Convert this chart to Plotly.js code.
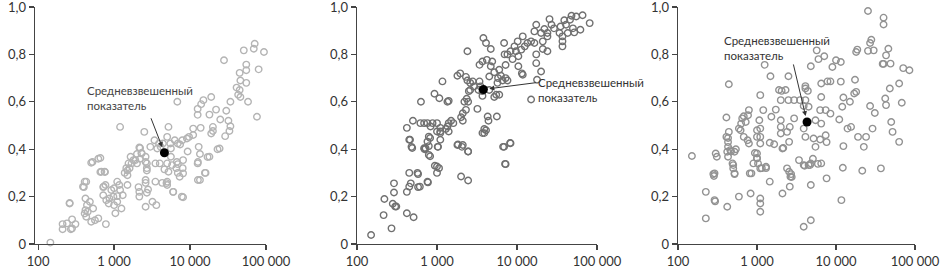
<!DOCTYPE html>
<html><head><meta charset="utf-8">
<script src="https://cdn.plot.ly/plotly-3.0.1.min.js"></script>
<style>html,body{margin:0;padding:0;background:#fff}#chart{width:948px;height:271px}</style>
</head><body><div id="chart"></div>
<script>
// ---- DATA ----
const xTickVals = [100, 1000, 10000, 100000];
const xTickText = ["100", "1 000", "10 000", "100 000"];
const yTickVals = [0, 0.2, 0.4, 0.6, 0.8, 1.0];
const yTickText = ["0", "0,2", "0,4", "0,6", "0,8", "1,0"];
const meanLabel = "Средневзвешенный<br>показатель";

const x1 = [71000,69000,51000,94000,28000,55000,80000,45000,55000,46000,55000,41000,45000,43000,46000,58000,34000,76000,19000,15000,14000,12600,12600,18000,22000,25000,30000,32000,34000,33000,29000,20000,19000,24500,18000,16000,13500,13000,13500,12600,11000,13800,11000,9700,9100,7900,7400,6900,6300,9300,8100,8000,8100,8100,6900,6600,6900,7300,6000,5200,6800,4400,4100,3900,3700,5000,5500,5600,5000,5200,5000,5000,4300,4000,3500,3500,3000,2500,2150,2300,2600,2200,2000,1800,1650,1700,1550,1450,1380,2700,2700,2700,2600,2600,2800,2100,2150,2150,2700,2600,3200,3600,1200,1100,1170,1000,920,1200,1500,1300,1100,980,870,790,850,1000,1100,1040,1250,720,730,770,680,750,620,500,780,410,430,390,420,440,450,420,480,530,500,560,620,410,430,260,280,280,240,210,210,310,270,145,3400,2000,5600,4600,20000,520,660,660,760,400,720,260,1500,1500,1600,1900,2200,2300,2600,4900,5800,6000,7800,6700,12700,15700,12700,23000,17000];
const y1 = [0.845,0.824,0.817,0.81,0.775,0.757,0.737,0.722,0.733,0.69,0.68,0.66,0.65,0.63,0.62,0.6,0.6,0.537,0.62,0.607,0.59,0.57,0.545,0.546,0.567,0.525,0.562,0.52,0.497,0.477,0.455,0.477,0.466,0.403,0.368,0.3,0.27,0.41,0.38,0.34,0.487,0.49,0.46,0.452,0.445,0.438,0.42,0.424,0.438,0.39,0.354,0.32,0.298,0.197,0.337,0.32,0.3,0.284,0.22,0.494,0.6,0.424,0.41,0.424,0.403,0.452,0.424,0.403,0.34,0.305,0.263,0.249,0.258,0.34,0.263,0.34,0.41,0.473,0.407,0.382,0.368,0.36,0.34,0.354,0.368,0.34,0.34,0.32,0.3,0.34,0.32,0.31,0.27,0.258,0.23,0.24,0.22,0.2,0.216,0.157,0.178,0.164,0.494,0.263,0.249,0.235,0.228,0.228,0.249,0.206,0.202,0.2,0.192,0.185,0.171,0.164,0.178,0.13,0.15,0.206,0.242,0.249,0.305,0.305,0.36,0.343,0.084,0.263,0.263,0.242,0.192,0.164,0.136,0.143,0.178,0.15,0.094,0.1,0.108,0.129,0.115,0.171,0.104,0.066,0.087,0.062,0.084,0.084,0.062,0.006,0.438,0.38,0.368,0.315,0.494,0.346,0.363,0.304,0.304,0.24,0.24,0.173,0.29,0.31,0.32,0.354,0.405,0.384,0.346,0.257,0.333,0.22,0.2,0.346,0.27,0.3,0.346,0.4,0.367];

const x2 = [81000,66000,55000,48000,46000,39000,41000,35000,34000,43000,52000,62000,50000,37000,37000,37000,29000,27000,25500,24000,24000,22000,17400,16500,20000,15000,16500,13500,21000,24000,21000,17400,17400,20000,17800,15000,11800,10200,9700,10400,11300,12500,9300,8300,7600,7000,8800,10400,11800,11500,6900,7200,6000,6300,7200,5800,5700,5500,5200,6000,5600,6600,7600,6900,8300,7200,4300,4400,4100,3900,3800,4100,4700,3700,4200,4700,4900,5200,4500,3400,3400,3500,3300,3700,3700,4500,2800,2900,2600,2600,2400,1950,1800,2300,2400,2500,2450,2350,2200,3200,2300,2100,2000,2100,2100,1800,2450,2000,2450,1170,1000,1100,1100,1100,1000,1290,1350,1400,1500,1600,1400,1350,1400,1070,930,1020,1000,1060,1000,690,620,760,880,830,790,760,720,790,690,630,500,420,450,480,450,470,450,420,570,610,760,420,510,290,290,300,280,310,220,215,270,150,7100,6700,8200,460,490,820,790,820,700,1030,1100,1830,2050,2450,3700,3900,580,580,770,940];
const y2 = [0.932,0.965,0.96,0.963,0.946,0.944,0.925,0.918,0.89,0.89,0.893,0.904,0.91,0.876,0.855,0.834,0.91,0.925,0.949,0.89,0.876,0.907,0.925,0.897,0.89,0.855,0.848,0.848,0.855,0.813,0.823,0.8,0.763,0.728,0.693,0.61,0.876,0.855,0.813,0.792,0.82,0.834,0.834,0.813,0.8,0.8,0.78,0.75,0.714,0.72,0.848,0.755,0.735,0.71,0.7,0.7,0.68,0.63,0.62,0.63,0.538,0.69,0.69,0.41,0.425,0.337,0.538,0.52,0.48,0.468,0.869,0.848,0.823,0.77,0.777,0.75,0.77,0.725,0.707,0.756,0.686,0.665,0.65,0.645,0.625,0.65,0.686,0.665,0.68,0.65,0.813,0.72,0.71,0.705,0.69,0.645,0.6,0.613,0.6,0.57,0.566,0.552,0.535,0.52,0.418,0.418,0.39,0.285,0.268,0.686,0.51,0.49,0.475,0.468,0.475,0.485,0.496,0.51,0.52,0.51,0.475,0.6,0.604,0.615,0.634,0.41,0.327,0.32,0.3,0.51,0.51,0.51,0.51,0.496,0.453,0.432,0.404,0.376,0.404,0.6,0.52,0.49,0.44,0.41,0.3,0.256,0.242,0.22,0.3,0.242,0.263,0.13,0.113,0.256,0.217,0.158,0.17,0.158,0.19,0.122,0.066,0.038,0.338,0.41,0.426,0.44,0.405,0.447,0.413,0.37,0.4,0.41,0.44,0.42,0.41,0.39,0.468,0.485,0.24,0.295,0.26,0.33];

const x3 = [25400,40000,40000,28000,27000,30000,25400,18600,18000,46000,43000,39000,40000,49000,71000,85000,63000,48000,42000,43000,68000,50000,52000,63000,37000,29000,27000,31000,24000,22500,21500,17400,18000,17000,15000,15500,14000,19000,12400,12000,12400,12200,11700,11500,10000,11500,11000,9000,8500,7800,8500,6500,6500,6300,7400,6500,6300,7400,7600,6500,7600,5700,6000,7100,4800,5500,5200,5500,4800,4800,4800,4100,4100,4100,3900,4400,4500,3900,4100,3900,3900,4500,3400,3500,2950,2950,2500,2300,2500,2000,2050,1900,2000,2000,2600,2400,2550,2000,2100,2400,2550,2650,2600,2100,1730,1520,1450,1650,1450,1250,1480,1100,1200,1070,1100,1100,1100,1000,1000,1000,1000,900,1100,1300,810,850,830,1100,1100,1100,790,770,680,650,720,630,590,620,680,760,790,590,440,410,410,440,430,420,460,520,490,500,520,430,420,300,310,290,285,290,225,225,150,430,470,540,500,520,940,1000,1030,1150,1300,2150,2700,2750,4000,4700,5100,5900,430,295,280];
const y3 = [0.983,0.955,0.926,0.862,0.848,0.817,0.815,0.82,0.81,0.824,0.796,0.76,0.76,0.761,0.742,0.733,0.677,0.656,0.614,0.586,0.596,0.515,0.473,0.431,0.319,0.487,0.582,0.553,0.452,0.41,0.309,0.693,0.642,0.635,0.6,0.494,0.487,0.452,0.618,0.579,0.413,0.322,0.185,0.768,0.775,0.685,0.525,0.747,0.686,0.686,0.55,0.677,0.62,0.565,0.565,0.508,0.441,0.459,0.43,0.34,0.277,0.817,0.78,0.792,0.75,0.522,0.445,0.41,0.34,0.249,0.1,0.666,0.656,0.607,0.582,0.646,0.579,0.487,0.452,0.333,0.073,0.333,0.354,0.607,0.607,0.53,0.708,0.65,0.607,0.607,0.646,0.65,0.522,0.494,0.494,0.473,0.431,0.466,0.403,0.319,0.305,0.284,0.242,0.213,0.567,0.537,0.427,0.421,0.263,0.756,0.708,0.628,0.565,0.522,0.487,0.452,0.424,0.48,0.452,0.382,0.361,0.34,0.319,0.326,0.298,0.298,0.213,0.192,0.171,0.136,0.565,0.543,0.539,0.53,0.515,0.508,0.487,0.48,0.452,0.438,0.424,0.2,0.473,0.452,0.534,0.674,0.41,0.389,0.396,0.389,0.34,0.319,0.298,0.368,0.157,0.382,0.368,0.298,0.287,0.185,0.22,0.108,0.371,0.447,0.39,0.4,0.333,0.295,0.384,0.363,0.34,0.32,0.32,0.405,0.295,0.283,0.33,0.333,0.36,0.338,0.43,0.18,0.295];

const meanX = [4600, 3800, 4300];
const meanY = [0.385, 0.652, 0.515];
const markerColors = ["#b4b4b4", "#707070", "#929292"];

// ---- LAYOUT HELPERS ----
const W = 948, H = 271;
const panels = [
  {dom: [35, 266], range: [Math.log10(91), 5]},
  {dom: [357, 597], range: [2, 5]},
  {dom: [678, 915], range: [2, 5]}
];
const yDom = [(H - 244) / H, (H - 7) / H];
const fontFam = "Lato, 'Open Sans', sans-serif";
const xs = [x1, x2, x3], ys = [y1, y2, y3];

const traces = [];
const layout = {
  width: W, height: H, margin: {l: 0, r: 0, t: 0, b: 0},
  paper_bgcolor: "#fff", plot_bgcolor: "#fff", showlegend: false,
  font: {family: fontFam, color: "#333"},
  annotations: []
};
const textPos = [
  {x: 85, y: 98, color: "#444"},
  {x: 536, y: 90, color: "#333"},
  {x: 722, y: 48, color: "#333"}
];
const arrowTail = [[-14, -36], [54, -7], [-14, -59]];

for (let i = 0; i < 3; i++) {
  const s = i === 0 ? "" : String(i + 1);
  traces.push({
    type: "scatter", mode: "markers", x: xs[i], y: ys[i],
    xaxis: "x" + s, yaxis: "y" + s, cliponaxis: false, hoverinfo: "skip",
    marker: {symbol: "circle-open", size: 6.5, color: markerColors[i], line: {width: 1.4, color: markerColors[i]}}
  });
  traces.push({
    type: "scatter", mode: "markers", x: [meanX[i]], y: [meanY[i]],
    xaxis: "x" + s, yaxis: "y" + s, cliponaxis: false, hoverinfo: "skip",
    marker: {symbol: "circle", size: 9, color: "#000"}
  });
  layout["xaxis" + s] = {
    type: "log", range: panels[i].range, domain: [panels[i].dom[0] / W, panels[i].dom[1] / W],
    anchor: "y" + s, showgrid: false, zeroline: false, showline: true, linecolor: "#444", linewidth: 1.4,
    ticks: "outside", ticklen: 5, tickwidth: 1.2, tickcolor: "#444", ticklabeloverflow: "allow",
    tickvals: xTickVals, ticktext: xTickText, tickfont: {size: 13, color: "#333", family: fontFam}
  };
  layout["yaxis" + s] = {
    range: [0, 1], domain: yDom, anchor: "x" + s, showgrid: false, zeroline: false,
    showline: true, linecolor: "#444", linewidth: 1.4, ticklabeloverflow: "allow",
    ticks: "outside", ticklen: 5, tickwidth: 1.2, tickcolor: "#444",
    tickvals: yTickVals, ticktext: yTickText, tickfont: {size: 13, color: "#333", family: fontFam}
  };
  layout.annotations.push({
    xref: "paper", yref: "paper", x: textPos[i].x / W, y: 1 - textPos[i].y / H,
    xanchor: "left", yanchor: "middle", align: "left", showarrow: false,
    text: meanLabel, font: {size: 11.5, color: textPos[i].color, family: fontFam}
  });
  layout.annotations.push({
    xref: "x" + s, yref: "y" + s, x: Math.log10(meanX[i]), y: meanY[i], text: "",
    showarrow: true, arrowhead: 2, arrowsize: 1, arrowwidth: 1, arrowcolor: "#333",
    ax: arrowTail[i][0], ay: arrowTail[i][1], standoff: 6
  });
}

Plotly.newPlot("chart", traces, layout, {staticPlot: true, displayModeBar: false});
</script>
</body></html>
